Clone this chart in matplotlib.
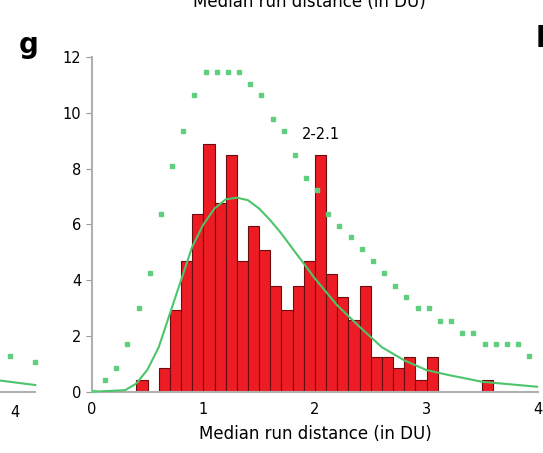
import matplotlib.pyplot as plt

# histogram bins (left edges) and heights
bin_left = [0.4, 0.6, 0.7, 0.8, 0.9, 1.0, 1.1, 1.2, 1.3, 1.4, 1.5, 1.6, 1.7, 1.8, 1.9,
            2.0, 2.1, 2.2, 2.3, 2.4, 2.5, 2.6, 2.7, 2.8, 2.9, 3.0, 3.5]
bin_height = [0.42, 0.84, 2.95, 4.69, 6.39, 8.9, 6.78, 8.5, 4.69, 5.95, 5.1, 3.81, 2.95,
              3.81, 4.69, 8.5, 4.24, 3.4, 2.57, 3.81, 1.25, 1.25, 0.84, 1.25, 0.42, 1.25, 0.42]

# dotted green series
dot_x = [round(0.02 + 0.1 * i, 2) for i in range(40)]
dot_y = [0, 0.42, 0.84, 1.70, 2.99, 4.27, 6.39, 8.1, 9.35, 10.63, 11.46, 11.46, 11.46, 11.46,
         11.04, 10.63, 9.77, 9.35, 8.5, 7.68, 7.22, 6.39, 5.95, 5.54, 5.11, 4.69, 4.27, 3.81,
         3.4, 2.99, 2.99, 2.54, 2.54, 2.11, 2.11, 1.70, 1.70, 1.70, 1.70, 1.28]

# fitted curve
fit_x = [0, 0.3, 0.4, 0.5, 0.6, 0.7, 0.8, 0.9, 1.0, 1.1, 1.2, 1.3, 1.4, 1.5, 1.6, 1.7, 1.8,
         1.9, 2.0, 2.2, 2.4, 2.6, 2.8, 3.0, 3.2, 3.5, 4.0]
fit_y = [0, 0.06, 0.3, 0.8, 1.6, 2.8, 4.0, 5.2, 6.0, 6.57, 6.9, 6.96, 6.87, 6.57, 6.15, 5.67,
         5.13, 4.6, 4.06, 3.1, 2.33, 1.6, 1.13, 0.78, 0.6, 0.36, 0.18]

green = "#4cc46a"

fig = plt.figure(figsize=(5.43, 4.53), dpi=100)
ax = fig.add_axes([0.169, 0.135, 0.822, 0.739])

ax.bar(bin_left, bin_height, width=0.1, align="edge", color="#ed1c24",
       edgecolor="#6b0d10", linewidth=0.8, zorder=2)
ax.plot(fit_x, fit_y, color=green, lw=1.5, zorder=3)
ax.plot(dot_x, dot_y, linestyle="none", marker="s", ms=2.2, color="#5fcf7f", zorder=3)
ax.text(2.05, 8.95, "2-2.1", ha="center", va="bottom", fontsize=10.5)

ax.set_xlim(0, 4)
ax.set_ylim(0, 12)
ax.set_xticks([0, 1, 2, 3, 4])
ax.set_yticks([0, 2, 4, 6, 8, 10, 12])
ax.tick_params(axis="x", length=0, labelsize=10.5, pad=7)
ax.tick_params(axis="y", direction="out", length=4, color="#999999", labelsize=10.5)
for s in ["top", "right"]:
    ax.spines[s].set_visible(False)
for s in ["left", "bottom"]:
    ax.spines[s].set_color("#b0b0b0")
    ax.spines[s].set_linewidth(1.5)
ax.set_xlabel("Median run distance (in DU)", fontsize=12, labelpad=6)

# bits of neighbouring panels
fig.text(0.57, 0.995, "Median run distance (in DU)", ha="center", va="center", fontsize=12)
fig.text(0.035, 0.9, "g", fontsize=20, fontweight="bold", va="center")
fig.text(0.028, 0.09, "4", fontsize=10.5, ha="center", va="center")
fig.text(0.995, 0.915, "l", fontsize=20, fontweight="bold", va="center", ha="center")
fig.add_artist(plt.Line2D([0, 0.065], [0.16, 0.15], color=green, lw=1.5))
fig.add_artist(plt.Line2D([0, 0.065], [0.135, 0.135], color="#b0b0b0", lw=1.5))
fig.add_artist(plt.Line2D([0.018, 0.065], [0.215, 0.2], color="#5fcf7f", lw=0,
                          marker="s", ms=2.2))

fig.savefig("out.png", dpi=100)
